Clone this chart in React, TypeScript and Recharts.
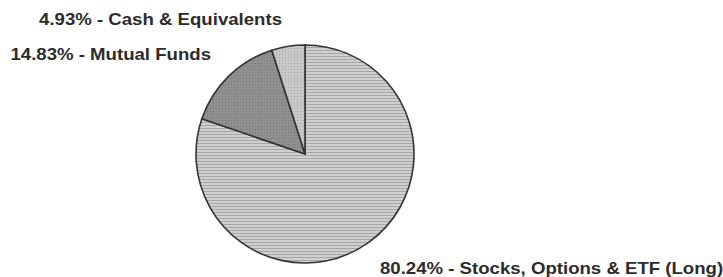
import React from "react";
import { PieChart, Pie, Cell } from "recharts";

const categories = ["Stocks, Options & ETF (Long)", "Mutual Funds", "Cash & Equivalents"];
const percents = [80.24, 14.83, 4.93];
const fills = ["url(#hatchStocks)", "url(#hatchFunds)", "url(#hatchCash)"];

const data = categories.map((name, i) => ({ name, value: percents[i] }));

const W = 723;
const H = 277;
const CX = 305;
const CY = 154;
const R = 109;

// label anchor offsets relative to pie center (text layout only)
const labelPos = [
  { dx: 75, dy: 120, anchor: "start" },
  { dx: -94, dy: -94, anchor: "end" },
  { dx: -23, dy: -129, anchor: "end" },
];

const renderLabel = (props: any) => {
  const { index, cx, cy } = props;
  const p = labelPos[index];
  return (
    <text
      x={0}
      y={0}
      transform={`translate(${cx + p.dx},${cy + p.dy}) scale(1.095,1)`}
      textAnchor={p.anchor}
      fill="#2c2c2c"
      fontFamily="Liberation Sans, Arial, sans-serif"
      fontWeight="bold"
      fontSize={17}
    >
      {`${percents[index].toFixed(2)}% - ${categories[index]}`}
    </text>
  );
};

export default function App() {
  return (
    <div style={{ width: W, height: H, background: "#fff" }}>
      <style>{`body{margin:0;background:#fff}`}</style>
      <PieChart width={W} height={H} margin={{ top: 0, right: 0, bottom: 0, left: 0 }}>
        <defs>
          <pattern id="hatchStocks" width="4" height="3" patternUnits="userSpaceOnUse">
            <rect width="4" height="3" fill="#d0d0d0" />
            <rect y="2" width="4" height="1" fill="#a6a6a6" />
          </pattern>
          <pattern id="hatchFunds" width="3" height="3" patternUnits="userSpaceOnUse">
            <rect width="3" height="3" fill="#909090" />
            <rect width="1" height="1" fill="#737373" />
          </pattern>
          <pattern id="hatchCash" width="3" height="3" patternUnits="userSpaceOnUse">
            <rect width="3" height="3" fill="#c8c8c8" />
            <rect width="1" height="1" fill="#a5a5a5" />
          </pattern>
        </defs>
        <Pie
          data={data}
          dataKey="value"
          nameKey="name"
          cx={CX}
          cy={CY}
          outerRadius={R}
          startAngle={90}
          endAngle={-270}
          stroke="#333"
          strokeWidth={1.6}
          label={renderLabel}
          labelLine={false}
          isAnimationActive={false}
        >
          {data.map((d, i) => (
            <Cell key={d.name} fill={fills[i]} />
          ))}
        </Pie>
      </PieChart>
    </div>
  );
}
